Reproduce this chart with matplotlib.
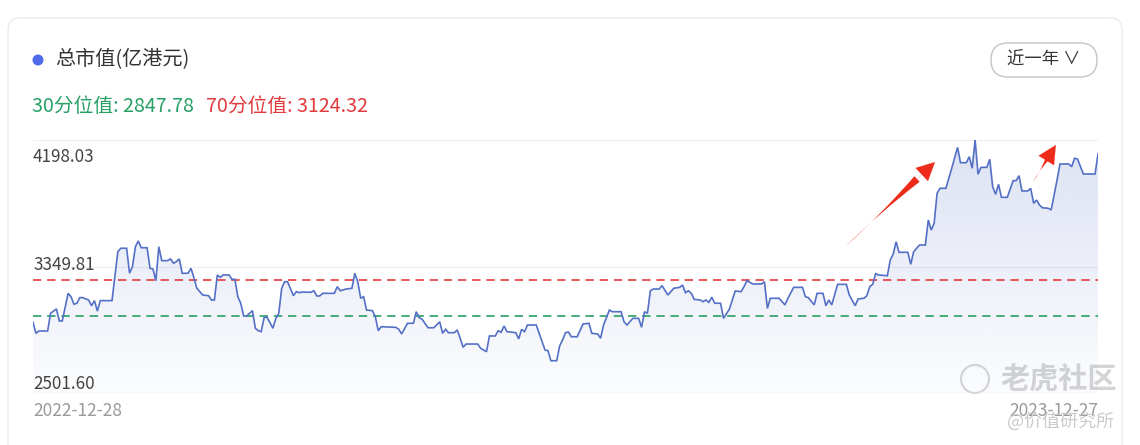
import matplotlib
matplotlib.use("Agg")
import matplotlib.pyplot as plt
import numpy as np
from matplotlib.patches import FancyBboxPatch, Circle

plt.rcParams["font.family"] = ["Noto Sans CJK SC", "DejaVu Sans"]

# ---------------------------------------------------------------------------
# Data (day = calendar days since START_DATE)
# ---------------------------------------------------------------------------
START_DATE = "2022-12-28"
END_DATE = "2023-12-27"
N_DAYS = 364

DAYS = [
    0, 1, 2, 5, 6, 8, 9, 10, 12, 13, 14, 15, 16, 17, 19, 20, 21, 22, 23, 27,
    29, 30, 32, 33, 34, 35, 36, 37, 39, 40, 41, 42, 43, 44, 46, 47, 48, 49, 50, 51,
    53, 54, 55, 56, 58, 60, 61, 62, 63, 64, 65, 67, 68, 69, 70, 71, 72, 73, 75, 76,
    77, 78, 79, 80, 82, 83, 84, 85, 86, 87, 89, 90, 91, 92, 95, 96, 97, 98, 99, 103,
    104, 105, 107, 109, 110, 111, 112, 113, 114, 116, 117, 118, 119, 124, 125, 126, 128, 130, 131, 132,
    133, 135, 137, 139, 140, 141, 142, 144, 145, 146, 147, 148, 152, 153, 155, 156, 158, 159, 160, 161,
    162, 165, 166, 167, 168, 169, 172, 173, 175, 176, 177, 179, 180, 181, 182, 183, 184, 186, 188, 190,
    191, 193, 194, 195, 197, 198, 201, 202, 203, 205, 207, 208, 209, 210, 211, 212, 214, 215, 217, 219,
    221, 222, 223, 224, 225, 226, 228, 229, 230, 231, 232, 233, 235, 236, 238, 240, 242, 243, 244, 246,
    249, 250, 251, 252, 255, 257, 258, 260, 263, 264, 265, 267, 268, 270, 271, 272, 273, 275, 278, 279,
    281, 282, 284, 285, 286, 287, 288, 289, 292, 293, 294, 295, 296, 299, 300, 301, 303, 305, 306, 307,
    308, 309, 310, 312, 314, 316, 317, 319, 320, 321, 322, 323, 324, 326, 327, 328, 329, 330, 331, 333,
    335, 336, 337, 338, 340, 341, 342, 343, 344, 345, 347, 348, 350, 351, 354, 355, 356, 357, 359, 363,
    364,
]

VALUES = [
    2799, 2714, 2732, 2732, 2868, 2901, 2809, 2809, 3021, 2995, 2937, 2945, 2988, 2988, 2970, 2926, 2965, 2885, 2965, 2965,
    3341, 3367, 3367, 3175, 3226, 3379, 3423, 3371, 3371, 3213, 3208, 3118, 3379, 3272, 3272, 3285, 3252, 3264, 3285, 3175,
    3175, 3213, 3141, 3060, 3008, 3003, 2970, 2970, 3162, 3144, 3162, 3162, 3129, 3129, 2995, 2945, 2847, 2847, 2888, 2753,
    2734, 2727, 2837, 2837, 2753, 2829, 2868, 3060, 3110, 3110, 3003, 3034, 3026, 3031, 3029, 3041, 3001, 3001, 3021, 3021,
    3072, 3041, 3054, 3060, 3175, 3110, 2983, 2995, 2893, 2888, 2842, 2734, 2765, 2760, 2745, 2709, 2791, 2791, 2880, 2834,
    2822, 2757, 2757, 2803, 2714, 2745, 2719, 2719, 2740, 2676, 2607, 2632, 2632, 2599, 2573, 2694, 2694, 2734, 2722, 2770,
    2727, 2719, 2671, 2745, 2727, 2778, 2778, 2714, 2586, 2581, 2504, 2504, 2617, 2663, 2719, 2724, 2688, 2688, 2786, 2791,
    2714, 2709, 2676, 2778, 2893, 2880, 2880, 2803, 2778, 2829, 2829, 2760, 2880, 2868, 3041, 3054, 3054, 3080, 3008, 3060,
    3067, 3085, 3026, 3041, 3021, 2975, 2970, 2957, 2970, 2952, 2991, 2945, 2945, 2829, 2899, 3039, 3034, 3072, 3118, 3093,
    3093, 3110, 2906, 2983, 2983, 2932, 2983, 3067, 3067, 2995, 2988, 2932, 3021, 3021, 2926, 2970, 2932, 3090, 3090, 3008,
    2926, 2978, 2983, 3003, 3072, 3090, 3172, 3162, 3156, 3277, 3321, 3417, 3336, 3336, 3244, 3341, 3392, 3392, 3584, 3507,
    3559, 3789, 3827, 3827, 3981, 4142, 4024, 4024, 4070, 3981, 4198, 3935, 3988, 3988, 4050, 3840, 3781, 3858, 3758, 3758,
    3886, 3886, 3924, 3807, 3807, 3827, 3712, 3737, 3699, 3678, 3674, 3661, 3891, 4014, 4014, 3993, 4058, 4052, 3937, 3937,
    4091,
]

Q30 = 2847.78
Q70 = 3124.32
Y_LABELS = ["4198.03", "3349.81", "2501.60"]
Y_TOP = 4198.03
Y_BOTTOM = 2256.0

# arrows drawn on the screenshot: (tail day, tail value) -> (tip day, tip value)
ARROWS = [((277.5, 3377), (308.3, 4029)), ((341.8, 3876), (349.6, 4160))]

W, H = 1140, 445
LINE_C = "#5470c6"
RED = "#e23b3e"
GREEN = "#27a064"
ARROW_C = "#ee2a1b"

fig = plt.figure(figsize=(W / 100, H / 100), dpi=100)

# ── Background layer in pixel coordinates ─────────────────────────────────
bg = fig.add_axes([0, 0, 1, 1], zorder=0)
bg.set_xlim(0, W)
bg.set_ylim(H, 0)
bg.axis("off")

bg.add_patch(FancyBboxPatch((8, 18), 1114, 520, boxstyle="round,pad=0,rounding_size=12",
                            facecolor="white", edgecolor="#ececec", linewidth=1))

bg.add_patch(Circle((38, 60), 4.8, color="#4f6bea"))
bg.text(55, 60, "总市值(亿港元)", fontsize=14.5, color="#333333", ha="left", va="center")

bg.text(32, 106, f"30分位值: {Q30:.2f}", fontsize=14.2, color=GREEN, ha="left", va="center")
bg.text(206, 106, f"70分位值: {Q70:.2f}", fontsize=14.2, color=RED, ha="left", va="center")

bg.add_patch(FancyBboxPatch((991, 43), 106, 34, boxstyle="round,pad=0,rounding_size=17",
                            facecolor="white", edgecolor="#c4c4c4", linewidth=1))
bg.text(1044, 60, "近一年 ∨", fontsize=12.5, color="#333333", ha="center", va="center")

bg.text(33, 411, START_DATE, fontsize=12.5, color="#9a9a9a", ha="left", va="center")
bg.text(1098, 411, END_DATE, fontsize=12.5, color="#9a9a9a", ha="right", va="center")

# watermark
bg.add_patch(Circle((975, 379), 14, facecolor="none", edgecolor="#d6d6d6", linewidth=1.5))
bg.text(1059, 379, "老虎社区", fontsize=21, color="#d4d4d4", ha="center", va="center",
        fontweight="bold")
bg.text(1060, 421, "@价值研究所", fontsize=13, color="#cbcbcb", ha="center", va="center")

# ── Chart ─────────────────────────────────────────────────────────────────
ax = fig.add_axes([33 / W, (H - 393) / H, 1065 / W, 253 / H], zorder=1)
ax.patch.set_alpha(0)
ax.set_xlim(0, N_DAYS)
ax.set_ylim(Y_BOTTOM, Y_TOP)
for s in ax.spines.values():
    s.set_visible(False)
ax.set_xticks([])
ax.set_yticks([])

for yv in np.linspace(Y_BOTTOM, Y_TOP, 3):
    ax.axhline(yv, color="#f0f0f0", linewidth=1, zorder=1)

days = np.array(DAYS, dtype=float)
vals = np.array(VALUES, dtype=float)

# gradient area under the line
poly = ax.fill_between(days, vals, Y_BOTTOM, facecolor="none", edgecolor="none")
grad = np.zeros((256, 2, 4))
grad[..., 0] = 84 / 255
grad[..., 1] = 112 / 255
grad[..., 2] = 198 / 255
grad[..., 3] = np.linspace(0.2, 0.02, 256)[:, None]
img = ax.imshow(grad, extent=[0, N_DAYS, Y_BOTTOM, Y_TOP], origin="upper",
                aspect="auto", zorder=2, interpolation="bilinear")
img.set_clip_path(poly.get_paths()[0], transform=ax.transData)

ax.plot(days, vals, color=LINE_C, linewidth=1.2, zorder=4, solid_joinstyle="miter")

ax.axhline(Q70, color=RED, linewidth=1.2, linestyle=(0, (5, 3.5)), zorder=3)
ax.axhline(Q30, color=GREEN, linewidth=1.2, linestyle=(0, (5, 3.5)), zorder=3)

label_pos = [0.933, 0.506, 0.036]
for lab, yp in zip(Y_LABELS, label_pos):
    ax.text(0, yp, lab, transform=ax.transAxes, fontsize=12.3, color="#444444",
            ha="left", va="center", zorder=5)

for (x0, y0), (x1, y1) in ARROWS:
    # tapered shaft (thin at the tail, widening toward the head) + solid head
    ax.annotate("", xy=(x0, y0), xytext=(x0 + (x1 - x0) * 0.8, y0 + (y1 - y0) * 0.8),
                arrowprops=dict(arrowstyle="wedge,tail_width=0.55,shrink_factor=0.1",
                                color=ARROW_C, linewidth=0, shrinkA=0, shrinkB=0), zorder=6)
    ax.annotate("", xy=(x1, y1), xytext=(x0 + (x1 - x0) * 0.6, y0 + (y1 - y0) * 0.6),
                arrowprops=dict(arrowstyle="-|>,head_length=1.3,head_width=0.65",
                                color=ARROW_C, linewidth=0.1, shrinkA=0, shrinkB=0),
                zorder=6)

fig.savefig("out.png", dpi=100)
